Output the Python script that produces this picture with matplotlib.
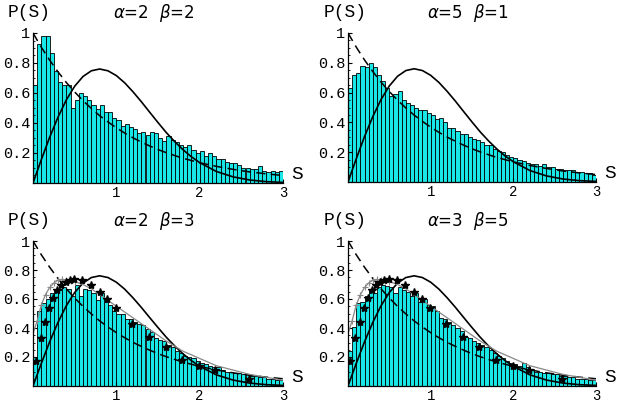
import numpy as np
import matplotlib
matplotlib.use("Agg")
import matplotlib.pyplot as plt

# bin left edges (width 0.05) from 0 to 3
s_bins = np.arange(60) * 0.05
bin_w = 0.05

# histogram heights
hist_a2b2 = [0.65, 0.93, 0.98, 0.98, 0.87, 0.75, 0.67, 0.65, 0.65, 0.50,
             0.55, 0.60, 0.58, 0.55, 0.52, 0.49, 0.52, 0.47, 0.47, 0.43,
             0.42, 0.38, 0.39, 0.37, 0.36, 0.33, 0.34, 0.32, 0.34, 0.33,
             0.30, 0.28, 0.31, 0.29, 0.27, 0.25, 0.24, 0.25, 0.22, 0.20,
             0.21, 0.18, 0.20, 0.18, 0.16, 0.16, 0.14, 0.13, 0.13, 0.12,
             0.10, 0.10, 0.09, 0.09, 0.11, 0.08, 0.07, 0.08, 0.07, 0.08]
hist_a5b1 = [0.63, 0.72, 0.73, 0.78, 0.77, 0.80, 0.77, 0.72, 0.68, 0.63,
             0.58, 0.59, 0.61, 0.55, 0.53, 0.52, 0.50, 0.48, 0.48, 0.46,
             0.45, 0.42, 0.43, 0.40, 0.36, 0.36, 0.34, 0.32, 0.32, 0.30,
             0.29, 0.28, 0.27, 0.25, 0.25, 0.22, 0.21, 0.20, 0.18, 0.17,
             0.16, 0.15, 0.14, 0.13, 0.12, 0.12, 0.11, 0.12, 0.10, 0.10,
             0.09, 0.09, 0.08, 0.08, 0.08, 0.07, 0.07, 0.06, 0.06, 0.05]
hist_a2b3 = [0.20, 0.52, 0.57, 0.60, 0.64, 0.66, 0.66, 0.68, 0.67, 0.62,
             0.70, 0.62, 0.67, 0.66, 0.64, 0.59, 0.64, 0.58, 0.56, 0.52,
             0.50, 0.50, 0.46, 0.46, 0.44, 0.43, 0.42, 0.39, 0.37, 0.33,
             0.32, 0.31, 0.28, 0.27, 0.24, 0.23, 0.21, 0.20, 0.19, 0.17,
             0.16, 0.15, 0.14, 0.13, 0.13, 0.11, 0.10, 0.10, 0.09, 0.09,
             0.08, 0.08, 0.07, 0.07, 0.06, 0.06, 0.05, 0.05, 0.04, 0.04]
hist_a3b5 = [0.24, 0.41, 0.57, 0.58, 0.62, 0.66, 0.64, 0.68, 0.70, 0.69,
             0.68, 0.64, 0.68, 0.66, 0.65, 0.62, 0.64, 0.58, 0.60, 0.56,
             0.55, 0.52, 0.47, 0.46, 0.44, 0.42, 0.40, 0.38, 0.34, 0.33,
             0.31, 0.30, 0.28, 0.27, 0.25, 0.23, 0.21, 0.19, 0.17, 0.16,
             0.15, 0.14, 0.16, 0.13, 0.12, 0.10, 0.10, 0.09, 0.09, 0.08,
             0.08, 0.07, 0.07, 0.06, 0.06, 0.05, 0.05, 0.05, 0.04, 0.04]

# reference curves
s_curve = [0.0, 0.1, 0.2, 0.3, 0.4, 0.5, 0.6, 0.7, 0.8, 0.9, 1.0, 1.1, 1.2,
           1.3, 1.4, 1.5, 1.6, 1.7, 1.8, 1.9, 2.0, 2.2, 2.4, 2.6, 2.8, 3.0]
poisson = [1.0, 0.905, 0.819, 0.741, 0.670, 0.607, 0.549, 0.497, 0.449,
           0.407, 0.368, 0.333, 0.301, 0.273, 0.247, 0.223, 0.202, 0.183,
           0.165, 0.150, 0.135, 0.111, 0.091, 0.074, 0.061, 0.050]
wigner = [0.0, 0.156, 0.305, 0.439, 0.554, 0.645, 0.710, 0.748, 0.760,
          0.748, 0.716, 0.668, 0.608, 0.542, 0.472, 0.403, 0.336, 0.276,
          0.222, 0.175, 0.136, 0.077, 0.041, 0.020, 0.009, 0.004]

# grey curve with + markers (bottom panels)
s_grey = [0.0, 0.05, 0.1, 0.15, 0.2, 0.25, 0.3, 0.35, 0.4, 0.5, 0.6, 0.7,
          0.8, 0.9, 1.0, 1.2, 1.4, 1.6, 1.8, 2.0, 2.2, 2.4, 2.6, 2.8, 3.0]
p_grey = [0.36, 0.45, 0.56, 0.63, 0.68, 0.71, 0.73, 0.735, 0.73, 0.72,
          0.70, 0.67, 0.63, 0.59, 0.55, 0.47, 0.39, 0.31, 0.24, 0.19,
          0.14, 0.11, 0.08, 0.06, 0.04]
s_plus = [0.05, 0.1, 0.15, 0.2, 0.25, 0.3, 0.35, 0.4, 0.45, 0.5]
p_plus = [0.45, 0.56, 0.63, 0.68, 0.71, 0.73, 0.735, 0.73, 0.725, 0.72]

# stars (bottom panels)
s_star = [0.03, 0.09, 0.14, 0.19, 0.24, 0.29, 0.34, 0.39, 0.44, 0.49,
          0.59, 0.69, 0.80, 0.89, 0.99, 1.19, 1.39, 1.59, 1.79, 1.99,
          2.19, 2.59]
p_star = [0.17, 0.33, 0.44, 0.54, 0.61, 0.66, 0.70, 0.72, 0.73, 0.74,
          0.73, 0.70, 0.65, 0.60, 0.54, 0.43, 0.34, 0.27, 0.18, 0.14,
          0.11, 0.05]

titles = [r"$\alpha$=2  $\beta$=2", r"$\alpha$=5  $\beta$=1",
          r"$\alpha$=2  $\beta$=3", r"$\alpha$=3  $\beta$=5"]
hists = [hist_a2b2, hist_a5b1, hist_a2b3, hist_a3b5]

W, H = 617, 403
fig = plt.figure(figsize=(W / 100, H / 100), dpi=100)
plt.rcParams['mathtext.fontset'] = 'dejavusans'

# (left px, right px, baseline px, y-pixels per unit)
boxes = [(33, 283, 183, 150), (348, 596, 182, 149),
         (33, 283, 386, 145), (348, 596, 386, 145)]
mono = "Liberation Mono"

for k in range(4):
    x0, x1, yb, pu = boxes[k]
    ytop = 1.03
    ax = fig.add_axes([x0 / W, 1 - yb / H, (x1 - x0) / W, ytop * pu / H])
    ax.bar(s_bins, hists[k], width=bin_w, align='edge', color='#19e6e6',
           edgecolor='black', linewidth=0.6)
    ax.plot(s_curve, poisson, color='black', lw=1.1, dashes=(6, 3.5))
    ax.plot(s_curve, wigner, color='black', lw=1.2)
    if k >= 2:
        ax.plot(s_grey, p_grey, color='#888888', lw=0.9)
        ax.plot(s_plus, p_plus, ls='none', marker='+', ms=5, color='#888888',
                mew=0.8)
        ax.plot(s_star, p_star, ls='none', marker='*', ms=6, color='black')
    ax.set_xlim(0, 3.0)
    ax.set_ylim(0, ytop)
    for side in ['top', 'right']:
        ax.spines[side].set_visible(False)
    ax.spines['left'].set_bounds(0, 1.0)
    ax.spines['left'].set_linewidth(0.9)
    ax.spines['bottom'].set_linewidth(0.9)
    ax.set_xticks([1, 2, 3])
    ax.set_xticklabels(['1', '2', '3'], fontfamily=mono, fontsize=10)
    ax.set_yticks([0.2, 0.4, 0.6, 0.8, 1.0])
    ax.set_yticklabels(['0.2', '0.4', '0.6', '0.8', '1'], fontfamily=mono,
                       fontsize=11)
    ax.set_xticks(np.arange(0.2, 3.0, 0.2), minor=True)
    ax.set_yticks(np.arange(0.05, 1.0, 0.05), minor=True)
    ax.tick_params(direction='in', length=3, width=0.8, pad=2)
    ax.tick_params(which='minor', direction='in', length=1.5, width=0.6)
    ax.patch.set_alpha(0)
    # axis labels
    ax.text(3.1, 0.0, "S", fontfamily=mono, fontsize=14, ha='left',
            va='bottom', clip_on=False)
    ax.text(-0.3, 1.08, "P(S)", fontfamily=mono, fontsize=13, ha='left',
            va='bottom', clip_on=False)
    ax.text(1.45, 1.06, titles[k], fontsize=12, ha='center', va='bottom',
            clip_on=False)

fig.savefig("out.png", dpi=100)
